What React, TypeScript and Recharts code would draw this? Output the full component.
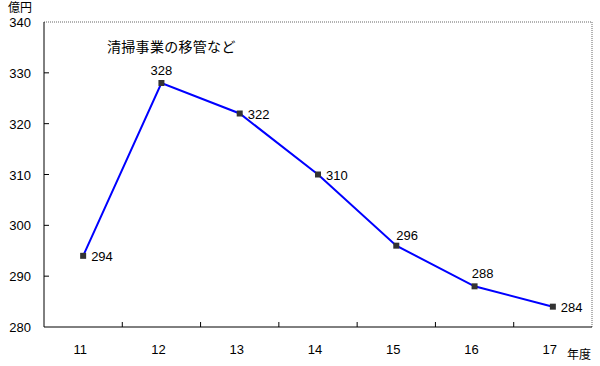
import React from 'react';
import { LineChart, Line, XAxis, YAxis, ReferenceLine, LabelList } from 'recharts';

const years = [11, 12, 13, 14, 15, 16, 17];
const values = [294, 328, 322, 310, 296, 288, 284];
const yTicks = [280, 290, 300, 310, 320, 330, 340];
const xTicks = [11, 11.5, 12, 12.5, 13, 13.5, 14, 14.5, 15, 15.5, 16, 16.5, 17];
const labelPlacement = ['right', 'above', 'right', 'right', 'aboveRight', 'above', 'right'];

const data = years.map((y, i) => ({ year: y, value: values[i] }));

const FONT = '"Liberation Sans", "Noto Sans CJK JP", sans-serif';

const YTick = (props: any) => {
  const { x, y, payload } = props;
  const v = payload.value;
  return (
    <g>
      {v !== 280 && v !== 340 && <line x1={x} x2={x + 5} y1={y} y2={y} stroke="#000" strokeWidth={1} />}
      <text x={x - 13} y={y + 5} textAnchor="end" fontSize={13} fontFamily={FONT} fill="#000">{v}</text>
    </g>
  );
};

const XTick = (props: any) => {
  const { x, y, payload } = props;
  const v = payload.value;
  if (Number.isInteger(v)) {
    return (
      <text x={x - 3} y={y + 27} textAnchor="middle" fontSize={13} fontFamily={FONT} fill="#000">{v}</text>
    );
  }
  return <line x1={x} x2={x} y1={y} y2={y - 5} stroke="#000" strokeWidth={1} />;
};

const Dot = (props: any) => {
  const { cx, cy } = props;
  return <rect x={cx - 3} y={cy - 3} width={6} height={6} fill="#333" />;
};

const PointLabel = (props: any) => {
  const { x, y, value, index } = props;
  const p = labelPlacement[index];
  let tx = x, ty = y, anchor: 'start' | 'middle' = 'start';
  if (p === 'right') { tx = x + 8; ty = y + 5; }
  else if (p === 'above') { tx = x; ty = y - 8; anchor = 'middle'; }
  else if (p === 'aboveRight') { tx = x; ty = y - 6; }
  if (p === 'above' && index === 5) { tx = x + 8; }
  return <text x={tx} y={ty} textAnchor={anchor} fontSize={13} fontFamily={FONT} fill="#000">{value}</text>;
};

export default function App() {
  return (
    <div style={{ position: 'absolute', left: 0, top: 0, width: 600, height: 366, background: '#fff' }}>
      <LineChart width={600} height={366} data={data} margin={{ top: 22, right: 8, left: 0, bottom: 0 }}>
        <XAxis
          dataKey="year"
          type="number"
          domain={[10.5, 17.5]}
          ticks={xTicks}
          interval={0}
          height={39}
          tickSize={0}
          tickMargin={0}
          tick={<XTick />}
          axisLine={{ stroke: '#000', strokeWidth: 1 }}
          tickLine={false}
          allowDecimals
        />
        <YAxis
          type="number"
          domain={[280, 340]}
          ticks={yTicks}
          width={44}
          tickSize={0}
          tickMargin={0}
          tick={<YTick />}
          axisLine={{ stroke: '#000', strokeWidth: 1 }}
          tickLine={false}
          interval={0}
        />
        <ReferenceLine y={340} stroke="#666" strokeDasharray="1 1" />
        <ReferenceLine x={17.5} stroke="#666" strokeDasharray="1 1" />
        <Line
          dataKey="value"
          stroke="#0000ff"
          strokeWidth={2}
          dot={<Dot />}
          activeDot={false}
          isAnimationActive={false}
        >
          <LabelList dataKey="value" content={<PointLabel />} />
        </Line>
      </LineChart>
      <div style={{ position: 'absolute', left: 8, top: 1, fontSize: 12, fontFamily: FONT, lineHeight: '14px' }}>億円</div>
      <div style={{ position: 'absolute', left: 567, top: 348, fontSize: 12, fontFamily: FONT, lineHeight: '14px' }}>年度</div>
      <div style={{ position: 'absolute', left: 107, top: 39, fontSize: 14, fontFamily: FONT, lineHeight: '16px', letterSpacing: 0.3 }}>清掃事業の移管など</div>
    </div>
  );
}
